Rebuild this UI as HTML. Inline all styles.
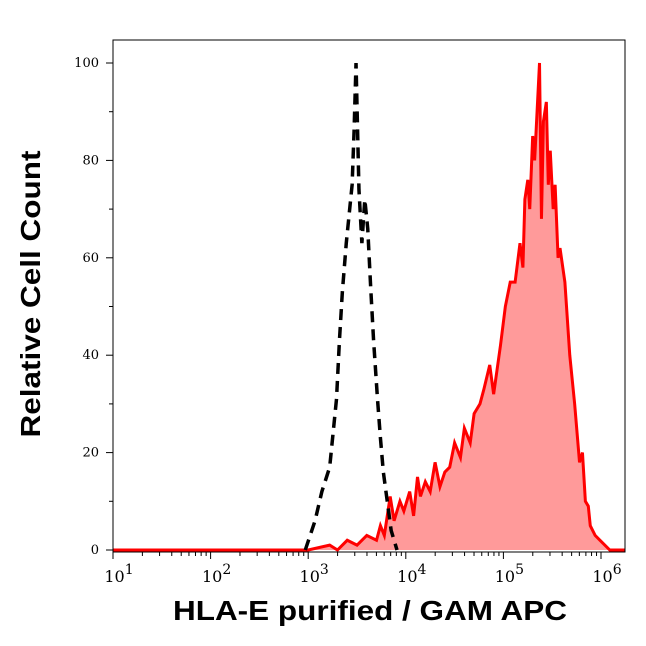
<!DOCTYPE html>
<html><head><meta charset="utf-8"><style>
body{margin:0;background:#fff;width:646px;height:641px;overflow:hidden}
svg text{font-family:"DejaVu Serif","Liberation Serif",serif}
</style></head><body>
<svg id="c" width="646" height="641">
<text x="370" y="620" text-anchor="middle" font-size="28" font-weight="bold" textLength="394" lengthAdjust="spacingAndGlyphs" style="font-family:'Liberation Sans','DejaVu Sans',sans-serif">HLA-E purified / GAM APC</text>
<text transform="translate(40,294) rotate(-90)" text-anchor="middle" font-size="28" font-weight="bold" textLength="287" lengthAdjust="spacingAndGlyphs" style="font-family:'Liberation Sans','DejaVu Sans',sans-serif">Relative Cell Count</text>
</svg>
<script>
const yTicks=[0,20,40,60,80,100];
const xDecades=[1,2,3,4,5,6];
const blackLog=[2.97,3.07,3.14,3.22,3.29,3.32,3.35,3.39,3.42,3.45,3.47,3.49,3.52,3.55,3.58,3.61,3.64,3.67,3.71,3.74,3.77,3.81,3.85,3.91];
const blackVal=[0,6,12,17,31,43,53,63,69,75,86,100,74,63,72,66,54,43,31,23,16,10,4,0];
const redLog=[1,2,3.0,3.22,3.3,3.4,3.5,3.6,3.7,3.74,3.78,3.84,3.88,3.94,3.98,4.04,4.08,4.12,4.15,4.2,4.25,4.3,4.35,4.4,4.45,4.5,4.56,4.6,4.66,4.7,4.76,4.8,4.86,4.9,4.97,5.02,5.07,5.12,5.17,5.2,5.22,5.25,5.27,5.3,5.32,5.35,5.37,5.39,5.41,5.44,5.46,5.48,5.51,5.53,5.56,5.58,5.63,5.68,5.73,5.78,5.81,5.84,5.87,5.89,5.94,5.99,6.09,6.25];
const redVal=[0,0,0,1,0,2,1,3,2,5,3,11,6,10,8,12,7,15,11,14,12,18,13,16,17,22,19,25,22,28,30,33,38,32,42,50,55,55,63,58,72,76,70,85,80,92,100,68,88,92,75,82,70,75,60,62,55,40,30,18,20,10,9,5,3,2,0,0];
const X=l=>113+(l-1)*97.6, Y=v=>550-v*4.87;
const L=113,R=625,T=40,B=552;
const s=document.getElementById('c');const NS='http://www.w3.org/2000/svg';
function mk(t,a){const e=document.createElementNS(NS,t);for(const k in a)e.setAttribute(k,a[k]);s.appendChild(e);return e;}
let fill='M'+X(redLog[0])+','+Y(0);redLog.forEach((l,i)=>fill+=' L'+X(l)+','+Y(redVal[i]));fill+=' L'+X(redLog[redLog.length-1])+','+Y(0)+'Z';
const rf=mk('path',{d:fill,fill:'#ff9a9a',stroke:'none'});


const rl=mk('polyline',{points:redLog.map((l,i)=>X(l)+','+Y(redVal[i])).join(' '),fill:'none',stroke:'#f00','stroke-width':3});


const bl=mk('polyline',{points:blackLog.map((l,i)=>X(l)+','+Y(blackVal[i])).join(' '),fill:'none',stroke:'#000','stroke-width':3.5,'stroke-dasharray':'11,7'});


const fr=mk('rect',{x:L,y:T,width:R-L,height:B-T,fill:'none',stroke:'#000','stroke-width':1});


for(let v=0;v<=100;v+=10){mk('line',{x1:L-(v%20?4:7),x2:L,y1:Y(v),y2:Y(v),stroke:'#000'});}
yTicks.forEach(v=>{const t=mk('text',{x:L-14,y:Y(v)+4,'text-anchor':'end','font-size':13});t.textContent=v;

});
for(let d=0;d<=5;d++){for(let m=1;m<10;m++){const l=d+Math.log10(m)+1;if(l>6.25)break;mk('line',{x1:X(l),x2:X(l),y1:B,y2:B+(m==1?7:4),stroke:'#000'});}}
xDecades.forEach(d=>{const t=mk('text',{x:X(d)+6,y:B+30,'text-anchor':'middle','font-size':16});t.innerHTML='10<tspan dy="-8" font-size="14">'+d+'</tspan>';

});
</script>
</body></html>
